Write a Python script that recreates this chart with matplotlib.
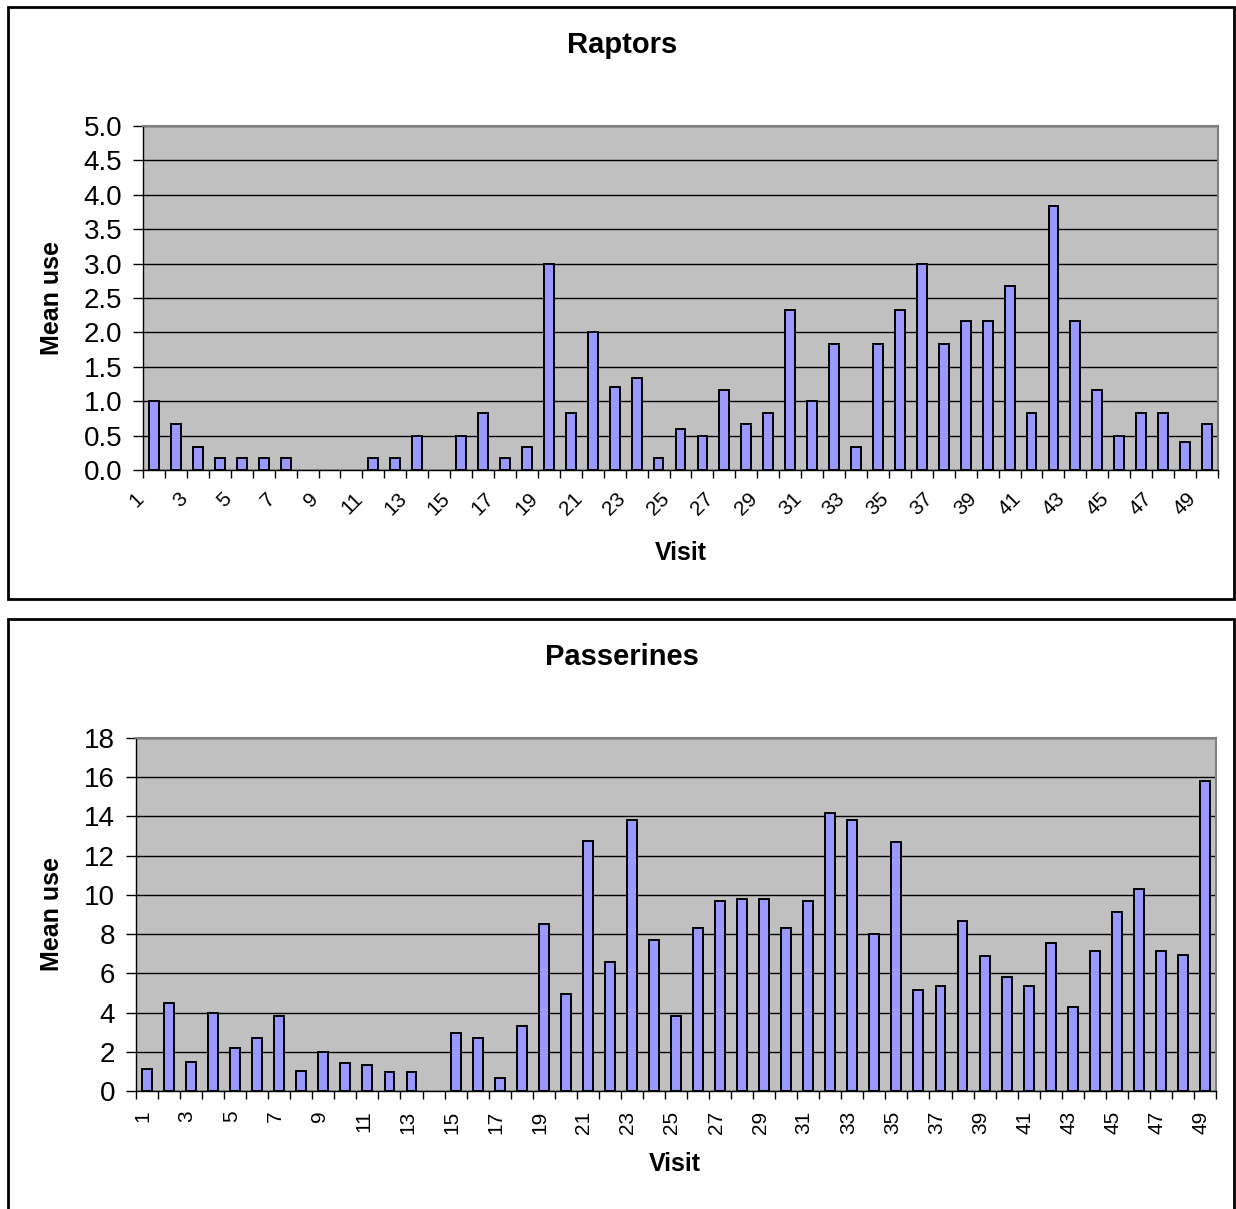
import numpy as np
import matplotlib
matplotlib.use("Agg")
import matplotlib.pyplot as plt
from matplotlib.patches import Rectangle
from matplotlib.transforms import ScaledTranslation

plt.rcParams["font.family"] = ["Liberation Sans", "DejaVu Sans"]

# visits 1..49
visits = np.arange(1, 50)
visit_labels = [str(v) if v % 2 == 1 else "" for v in visits]

raptors = [1.0, 0.67, 0.33, 0.17, 0.17, 0.17, 0.17, 0, 0, 0,
           0.17, 0.17, 0.5, 0, 0.5, 0.83, 0.17, 0.33, 3.0, 0.83,
           2.0, 1.2, 1.33, 0.17, 0.6, 0.5, 1.17, 0.67, 0.83, 2.33,
           1.0, 1.83, 0.33, 1.83, 2.33, 3.0, 1.83, 2.17, 2.17, 2.67,
           0.83, 3.83, 2.17, 1.17, 0.5, 0.83, 0.83, 0.4, 0.67]

passerines = [1.1, 4.5, 1.5, 4.0, 2.2, 2.7, 3.8, 1.0, 2.0, 1.43,
              1.35, 0.97, 0.97, 0, 2.95, 2.68, 0.67, 3.33, 8.5, 4.95,
              12.75, 6.57, 13.8, 7.7, 3.8, 8.3, 9.7, 9.8, 9.8, 8.3,
              9.7, 14.2, 13.8, 8.0, 12.7, 5.15, 5.35, 8.67, 6.87, 5.8,
              5.35, 7.53, 4.3, 7.15, 9.15, 10.3, 7.15, 6.95, 15.8]

W, H = 1236, 1209
fig = plt.figure(figsize=(W / 100, H / 100), dpi=100)


def fx(px):
    return px / W


def fy(py):
    return 1 - py / H


def box(x0, y0, x1, y1):
    fig.patches.append(Rectangle((fx(x0), fy(y1)), fx(x1) - fx(x0), fy(y0) - fy(y1),
                                 transform=fig.transFigure, fill=False,
                                 edgecolor="black", linewidth=2))


def bar_panel(left, top, right, bottom, values, ymax, ystep, yfmt, rot):
    ax = fig.add_axes([fx(left), fy(bottom), fx(right) - fx(left), fy(top) - fy(bottom)])
    ax.set_facecolor("#C0C0C0")
    vals = np.asarray(values, dtype=float)
    keep = vals > 0  # empty visits draw nothing
    ax.bar(visits[keep], vals[keep], width=0.45, color="#9999FF", edgecolor="black",
           linewidth=1.4, zorder=3)
    ax.set_xlim(0.5, len(visits) + 0.5)
    ax.set_ylim(0, ymax)
    yt = np.arange(0, ymax + ystep / 2, ystep)
    ax.set_yticks(yt)
    ax.set_yticklabels([yfmt.format(v) for v in yt], fontsize=20)
    ax.yaxis.grid(True, color="black", linewidth=1, zorder=1)
    ax.set_axisbelow(True)
    ax.tick_params(axis="y", length=7, width=1, pad=8)

    # tick marks between categories, labels at category centres
    ax.set_xticks(np.arange(0.5, len(visits) + 1, 1))
    ax.set_xticklabels([])
    ax.tick_params(axis="x", which="major", length=6, width=1)
    ax.set_xticks(visits, minor=True)
    if rot == 45:
        ax.set_xticklabels(visit_labels, minor=True, fontsize=15, rotation=45,
                           ha="right", va="top")
        shift = ScaledTranslation(-7 / 100, 0, fig.dpi_scale_trans)
        pad = 14
    else:
        ax.set_xticklabels(visit_labels, minor=True, fontsize=15, rotation=90,
                           ha="center", va="top")
        shift = ScaledTranslation(-4 / 100, 0, fig.dpi_scale_trans)
        pad = 14
    ax.tick_params(axis="x", which="minor", length=0, pad=pad)
    for lbl in ax.get_xticklabels(minor=True):
        lbl.set_transform(lbl.get_transform() + shift)

    for s in ("top", "right"):
        ax.spines[s].set_color("#808080")
        ax.spines[s].set_linewidth(1.5)
    for s in ("left", "bottom"):
        ax.spines[s].set_color("black")
        ax.spines[s].set_linewidth(1)
    return ax


# Raptors
box(8, 7, 1234, 599)
bar_panel(143, 126, 1218, 470, raptors, 5.0, 0.5, "{:.1f}", 45)
fig.text(fx(622), fy(45), "Raptors", fontsize=21, fontweight="bold",
         ha="center", va="center")
fig.text(fx(52), fy(298), "Mean use", fontsize=18, fontweight="bold",
         rotation=90, ha="center", va="center")
fig.text(fx(681), fy(553), "Visit", fontsize=18, fontweight="bold",
         ha="center", va="center")

# Passerines
box(8, 619, 1234, 1240)
bar_panel(136, 738, 1216, 1091, passerines, 18, 2, "{:.0f}", 90)
fig.text(fx(622), fy(657), "Passerines", fontsize=21, fontweight="bold",
         ha="center", va="center")
fig.text(fx(52), fy(914), "Mean use", fontsize=18, fontweight="bold",
         rotation=90, ha="center", va="center")
fig.text(fx(675), fy(1164), "Visit", fontsize=18, fontweight="bold",
         ha="center", va="center")

fig.savefig("out.png", dpi=100)
